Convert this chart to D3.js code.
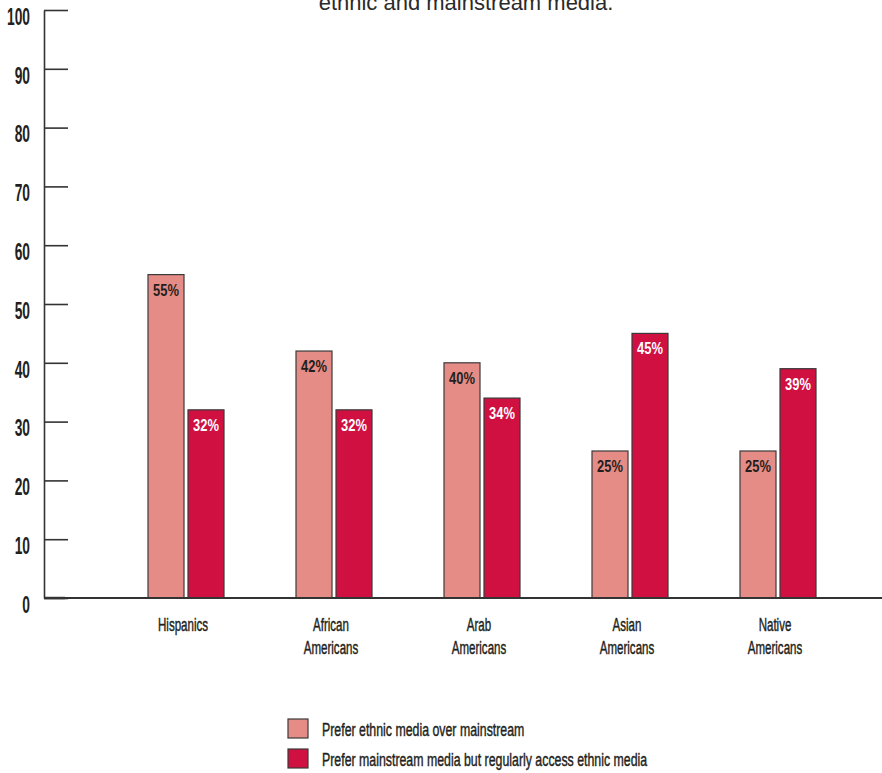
<!DOCTYPE html>
<html>
<head>
<meta charset="utf-8">
<script src="https://cdn.jsdelivr.net/npm/d3@7"></script>
<style>
  html, body { margin: 0; padding: 0; background: #fff; }
  svg { display: block; }
  .cond { font-family: "Liberation Sans", Arial, sans-serif; }
</style>
</head>
<body>
<svg id="chart" width="882" height="773"></svg>
<script>
// ---- data ----
const categories = ["Hispanics", "African Americans", "Arab Americans", "Asian Americans", "Native Americans"];
const categoryLines = [["Hispanics"], ["African", "Americans"], ["Arab", "Americans"], ["Asian", "Americans"], ["Native", "Americans"]];
const seriesNames = ["Prefer ethnic media over mainstream", "Prefer mainstream media but regularly access ethnic media"];
const preferEthnic = [55, 42, 40, 25, 25];
const preferMainstream = [32, 32, 34, 45, 39];
const yTicks = [0, 10, 20, 30, 40, 50, 60, 70, 80, 90, 100];
const titleLine = "ethnic and mainstream media.";

const colors = ["#E58C87", "#CF1040"];
const labelColors = ["#231f20", "#ffffff"];
const seriesValues = [preferEthnic, preferMainstream];

const svg = d3.select("#chart");
const axisColor = "#333333";

// scales
const y = d3.scaleLinear().domain([0, 100]).range([598, 10]);
const x0 = d3.scaleBand().domain(categories).range([112, 852]).padding(0);
const x1 = d3.scaleBand().domain(d3.range(seriesNames.length)).range([0, 76]).paddingInner(0.1).paddingOuter(0);

// title fragment (cut off at top, as in the source)
svg.append("text")
  .attr("x", 466).attr("y", 10)
  .attr("text-anchor", "middle")
  .attr("font-family", "Liberation Sans, Arial, sans-serif")
  .attr("font-size", 22)
  .attr("fill", "#2b2b2b")
  .text(titleLine);

// y axis
const yAxisG = svg.append("g")
  .attr("transform", "translate(44,0)")
  .call(d3.axisLeft(y).tickValues(yTicks).tickSizeInner(-24).tickSizeOuter(0).tickPadding(14));
yAxisG.select(".domain").attr("stroke", axisColor).attr("stroke-width", 1.6);
yAxisG.selectAll(".tick line").attr("stroke", axisColor).attr("stroke-width", 1.6);
yAxisG.selectAll(".tick text")
  .attr("class", "cond")
  .attr("x", 0)
  .attr("dy", "0.62em")
  .attr("transform", "translate(-14,0) scale(0.6,1)")
  .attr("font-size", 23)
  .attr("font-weight", "bold")
  .attr("fill", "#231f20");

// small dark corner segment at axis origin
svg.append("line")
  .attr("x1", 44).attr("x2", 65)
  .attr("y1", y(0)).attr("y2", y(0))
  .attr("stroke", "#1a1a1a").attr("stroke-width", 2.4);

// bars
const groups = svg.append("g").selectAll("g")
  .data(categories)
  .join("g")
  .attr("transform", d => `translate(${x0(d) + x0.bandwidth() / 2 - 38},0)`);

groups.each(function(cat, ci) {
  const g = d3.select(this);
  seriesValues.forEach((vals, si) => {
    const v = vals[ci];
    g.append("rect")
      .attr("x", x1(si))
      .attr("y", y(v))
      .attr("width", x1.bandwidth())
      .attr("height", y(0) - y(v))
      .attr("fill", colors[si])
      .attr("stroke", "#3a3a3a")
      .attr("stroke-width", 1.2);
    g.append("text")
      .attr("class", "cond")
      .attr("transform", `translate(${x1(si) + x1.bandwidth() / 2},${y(v) + 21}) scale(0.76,1)`)
      .attr("text-anchor", "middle")
      .attr("font-size", 17)
      .attr("font-weight", "bold")
      .attr("fill", labelColors[si])
      .text(v + "%");
  });
});

// x baseline
svg.append("line")
  .attr("x1", 44).attr("x2", 882)
  .attr("y1", y(0)).attr("y2", y(0))
  .attr("stroke", axisColor).attr("stroke-width", 2);

// category labels
const catLabels = svg.append("g").selectAll("text")
  .data(categories)
  .join("text")
  .attr("class", "cond")
  .attr("transform", d => `translate(${x0(d) + x0.bandwidth() / 2 - 3},631) scale(0.64,1)`)
  .attr("text-anchor", "middle")
  .attr("font-size", 18)
  .attr("fill", "#231f20")
  .attr("stroke", "#231f20")
  .attr("stroke-width", 0.45);
catLabels.each(function(d, i) {
  d3.select(this).selectAll("tspan")
    .data(categoryLines[i])
    .join("tspan")
    .attr("x", 0)
    .attr("dy", (t, j) => j === 0 ? 0 : 23)
    .text(t => t);
});

// legend
const legend = svg.append("g").selectAll("g")
  .data(seriesNames)
  .join("g")
  .attr("transform", (d, i) => `translate(288,${719 + i * 30})`);
legend.append("rect")
  .attr("width", 20).attr("height", 19)
  .attr("fill", (d, i) => colors[i])
  .attr("stroke", "#3a3a3a").attr("stroke-width", 1.2);
legend.append("text")
  .attr("class", "cond")
  .attr("transform", "translate(34,17) scale(0.65,1)")
  .attr("font-size", 19)
  .attr("fill", "#231f20")
  .attr("stroke", "#231f20")
  .attr("stroke-width", 0.45)
  .text(d => d);
</script>
</body>
</html>
